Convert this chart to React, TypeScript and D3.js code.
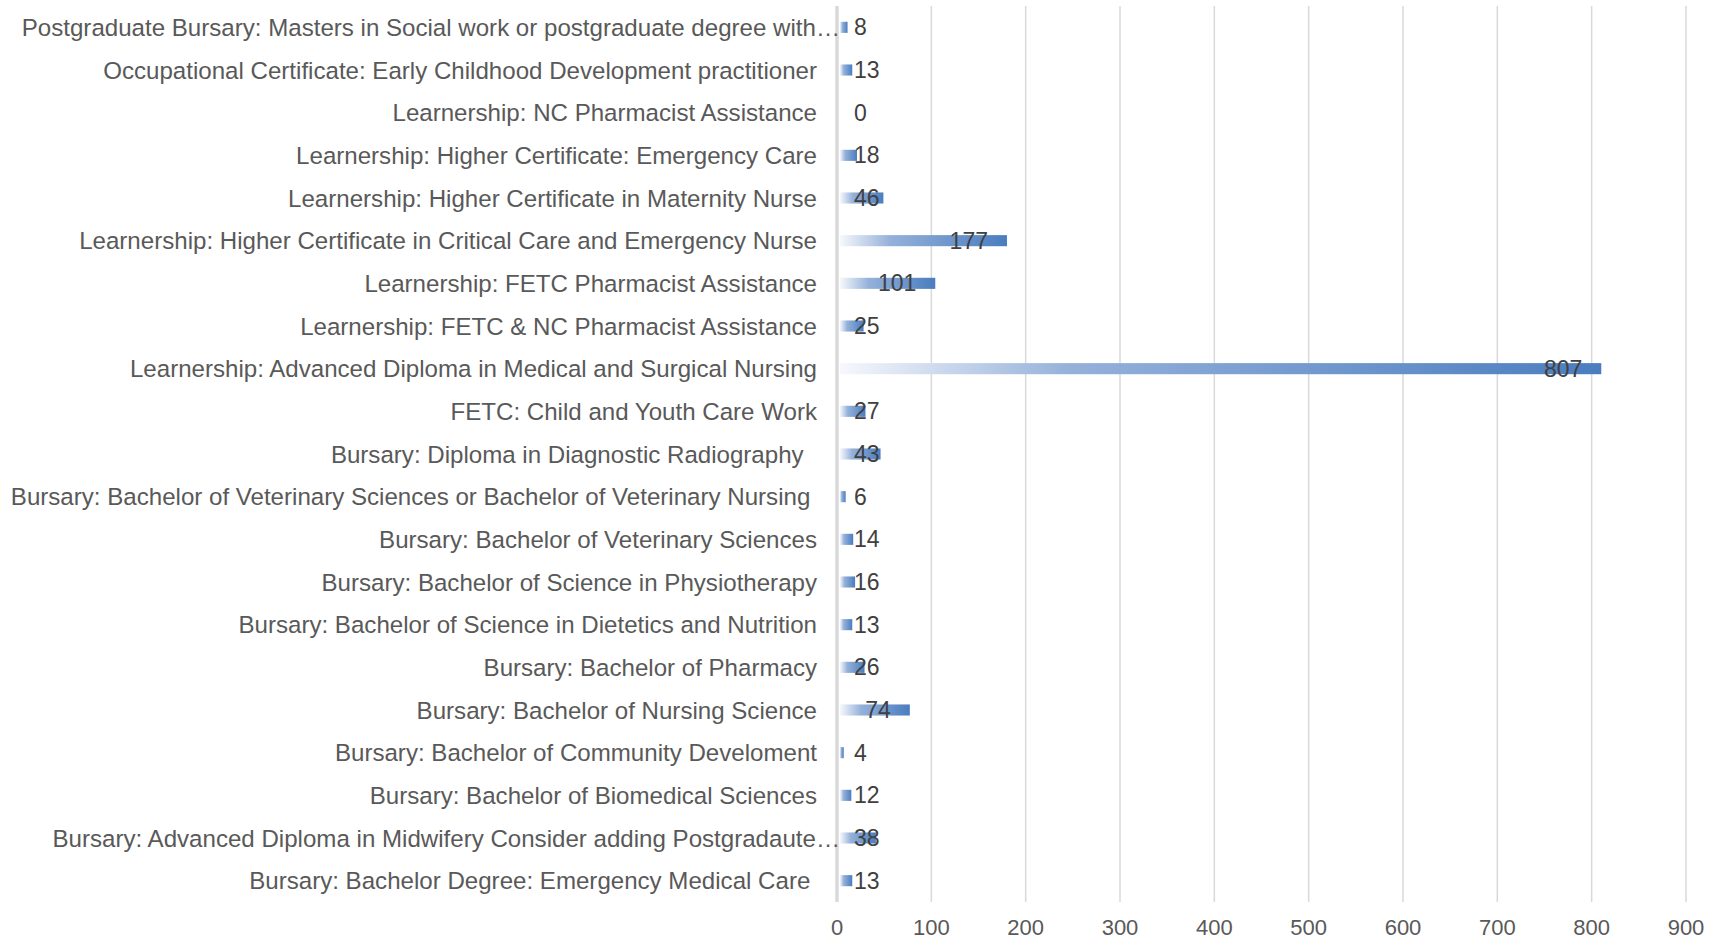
import { useEffect, useRef } from "react";
import * as d3 from "d3";

const categories = [
  "Postgraduate Bursary: Masters in Social work or postgraduate degree with…",
  "Occupational Certificate: Early Childhood Development practitioner",
  "Learnership: NC Pharmacist Assistance",
  "Learnership: Higher Certificate: Emergency Care",
  "Learnership: Higher Certificate in Maternity Nurse",
  "Learnership: Higher Certificate in Critical Care and Emergency Nurse",
  "Learnership: FETC Pharmacist Assistance",
  "Learnership: FETC & NC Pharmacist Assistance",
  "Learnership: Advanced Diploma in Medical and Surgical Nursing",
  "FETC: Child and Youth Care Work",
  "Bursary: Diploma in Diagnostic Radiography  ",
  "Bursary: Bachelor of Veterinary Sciences or Bachelor of Veterinary Nursing ",
  "Bursary: Bachelor of Veterinary Sciences",
  "Bursary: Bachelor of Science in Physiotherapy",
  "Bursary: Bachelor of Science in Dietetics and Nutrition",
  "Bursary: Bachelor of Pharmacy",
  "Bursary: Bachelor of Nursing Science",
  "Bursary: Bachelor of Community Develoment",
  "Bursary: Bachelor of Biomedical Sciences",
  "Bursary: Advanced Diploma in Midwifery Consider adding Postgradaute…",
  "Bursary: Bachelor Degree: Emergency Medical Care ",
];

const values = [8, 13, 0, 18, 46, 177, 101, 25, 807, 27, 43, 6, 14, 16, 13, 26, 74, 4, 12, 38, 13];

const xTicks = [0, 100, 200, 300, 400, 500, 600, 700, 800, 900];

const width = 1721;
const height = 940;
const marginLeft = 837;
const marginRight = 35;
const marginTop = 6;
const marginBottom = 38;
const fontSize = 22;
const valueFontSize = 23;
const labelFontSize = 24.1;
const font = "Liberation Sans, Arial, sans-serif";

export default function App() {
  const ref = useRef<SVGSVGElement | null>(null);

  useEffect(() => {
    document.body.style.margin = "0";
    const svgEl = ref.current;
    if (!svgEl) return;
    const svg = d3.select(svgEl);
    svg.selectAll("*").remove();

    const x = d3.scaleLinear().domain([0, 900]).range([marginLeft, width - marginRight]);
    const y = d3
      .scaleBand<string>()
      .domain(categories)
      .range([marginTop, height - marginBottom])
      .paddingInner(0.74)
      .paddingOuter(0.37);

    const grad = svg
      .append("defs")
      .append("linearGradient")
      .attr("id", "barGrad")
      .attr("x1", "0%")
      .attr("x2", "100%")
      .attr("y1", "0%")
      .attr("y2", "0%");
    grad.append("stop").attr("offset", "0%").attr("stop-color", "#f6f8fc");
    grad.append("stop").attr("offset", "30%").attr("stop-color", "#95b1da");
    grad.append("stop").attr("offset", "100%").attr("stop-color", "#4a7dbf");

    // gridlines
    svg
      .append("g")
      .selectAll("line")
      .data(xTicks.slice(1))
      .join("line")
      .attr("x1", (d) => x(d))
      .attr("x2", (d) => x(d))
      .attr("y1", marginTop)
      .attr("y2", height - marginBottom)
      .attr("stroke", "#d9d9d9")
      .attr("stroke-width", 1.5);

    // x axis tick labels
    svg
      .append("g")
      .selectAll("text")
      .data(xTicks)
      .join("text")
      .attr("x", (d) => x(d))
      .attr("y", height - 13)
      .attr("text-anchor", "middle")
      .attr("dominant-baseline", "central")
      .attr("font-family", font)
      .attr("font-size", fontSize)
      .attr("fill", "#595959")
      .text((d) => String(d));

    // bars
    svg
      .append("g")
      .selectAll("rect")
      .data(values)
      .join("rect")
      .attr("x", x(0) + 3)
      .attr("y", (_d, i) => y(categories[i]) ?? 0)
      .attr("width", (d) => Math.max(0, x(d) - x(0)))
      .attr("height", y.bandwidth())
      .attr("fill", "url(#barGrad)");

    // category axis line
    svg
      .append("line")
      .attr("x1", x(0))
      .attr("x2", x(0))
      .attr("y1", marginTop)
      .attr("y2", height - marginBottom)
      .attr("stroke", "#d9d9d9")
      .attr("stroke-width", 3.5);

    // category labels
    svg
      .append("g")
      .selectAll("text")
      .data(categories)
      .join("text")
      .attr("x", (d) => x(0) - (d.endsWith("…") ? -3 : 20))
      .attr("y", (d) => (y(d) ?? 0) + y.bandwidth() / 2)
      .attr("text-anchor", "end")
      .attr("dominant-baseline", "central")
      .attr("font-family", font)
      .attr("font-size", labelFontSize)
      .attr("fill", "#595959")
      .style("white-space", "pre")
      .text((d) => d);

    // value labels: inside end, pushed to base when they don't fit
    svg
      .append("g")
      .selectAll("text")
      .data(values)
      .join("text")
      .each(function (d, i) {
        const label = String(d);
        const w = label.length * 0.556 * valueFontSize;
        const right = x(d) - 16;
        const left = right - w < x(0) + 17 ? x(0) + 17 : right - w;
        d3.select(this)
          .attr("x", left)
          .attr("y", (y(categories[i]) ?? 0) + y.bandwidth() / 2)
          .text(label);
      })
      .attr("text-anchor", "start")
      .attr("dominant-baseline", "central")
      .attr("font-family", font)
      .attr("font-size", valueFontSize)
      .attr("fill", "#404040");
  }, []);

  return <svg ref={ref} width={width} height={height} style={{ display: "block", background: "#fff" }} />;
}
